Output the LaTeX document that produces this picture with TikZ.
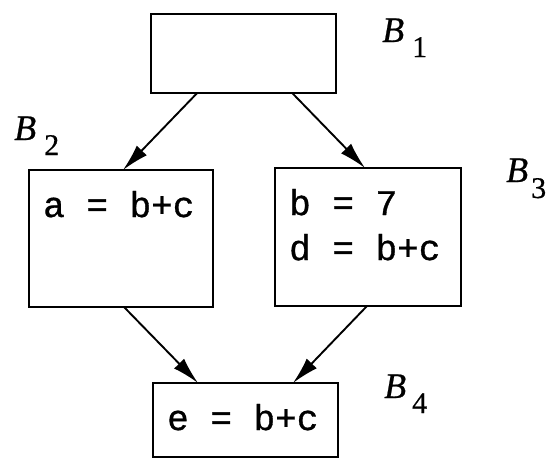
\documentclass[tikz,border=0pt]{standalone}
\usepackage{fontspec}
\setmainfont{Liberation Serif}
\newfontfamily\codefont[FakeBold=0.9]{Liberation Mono}
\newfontfamily\labfont[FakeBold=0.6]{Liberation Serif}
\usetikzlibrary{arrows.meta}
\begin{document}
\begin{tikzpicture}[x=1pt,y=-1pt,
  blockbox/.style={draw,line width=2.2pt,inner sep=0pt,outer sep=0pt,minimum width=185pt},
  code/.style={anchor=base west,inner sep=0pt,font=\codefont\fontsize{36}{36}\selectfont},
  blab/.style={anchor=base west,inner sep=0pt,font=\labfont\fontsize{36}{36}\selectfont\itshape},
  bsub/.style={anchor=base west,inner sep=0pt,font=\labfont\fontsize{30}{30}\selectfont},
  flow/.style={line width=1.9pt,-{Latex[length=27pt,width=14pt]}}]
\useasboundingbox (0,0) rectangle (555,459);
\node[blockbox,minimum height=79pt] (b1) at (243.4,53.5) {};
\node[blockbox,minimum width=184pt,minimum height=137pt] (b2) at (121,238.5) {};
\node[blockbox,minimum width=186pt,minimum height=138pt] (b3) at (368,237) {};
\node[blockbox,minimum height=74pt] (b4) at (245.5,420) {};
\node[code] (t2) at (43,217) {a = b+c};
\node[code] (t3a) at (289,215) {b = 7};
\node[code] (t3b) at (289,260) {d = b+c};
\node[code] (t4) at (167,430) {e = b+c};
\node[blab] (l1) at (382,42) {B};
\node[bsub] (s1) at (412,57) {1};
\node[blab] (l2) at (14,140) {B};
\node[bsub] (s2) at (44,155) {2};
\node[blab] (l3) at (506,182) {B};
\node[bsub] (s3) at (531,198) {3};
\node[blab] (l4) at (384,398) {B};
\node[bsub] (s4) at (412,413) {4};
\draw[flow] ([xshift=46.3pt]b1.south west) -- ([xshift=94pt]b2.north west);
\draw[flow] ([xshift=141.3pt]b1.south west) -- ([xshift=90pt]b3.north west);
\draw[flow] ([xshift=95pt]b2.south west) -- ([xshift=45pt]b4.north west);
\draw[flow] ([xshift=92pt]b3.south west) -- ([xshift=140pt]b4.north west);
\end{tikzpicture}
\end{document}
